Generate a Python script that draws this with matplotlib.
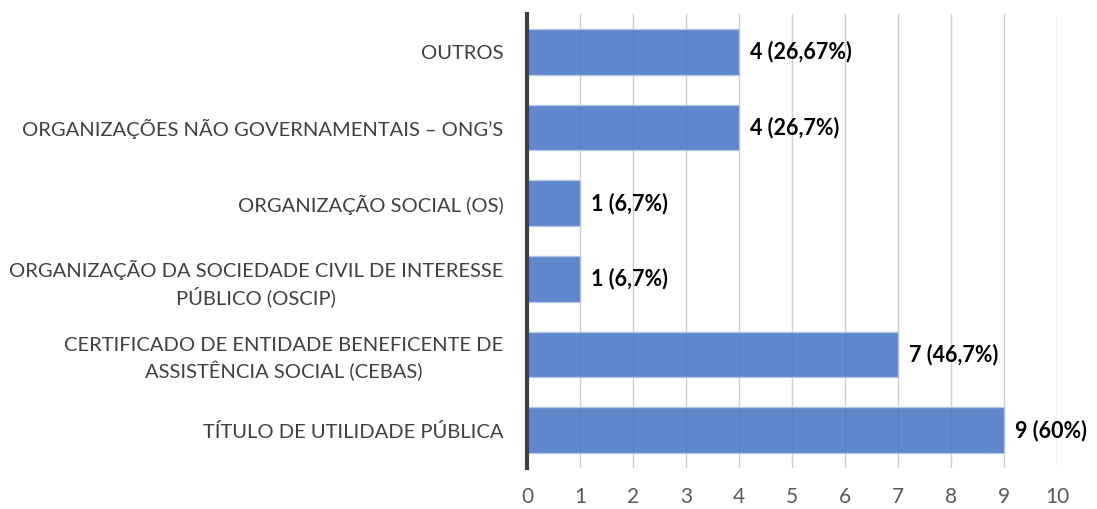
import matplotlib.pyplot as plt

# Data (bottom to top)
categorias = [
    "TÍTULO DE UTILIDADE PÚBLICA",
    "CERTIFICADO DE ENTIDADE BENEFICENTE DE\nASSISTÊNCIA SOCIAL (CEBAS)",
    "ORGANIZAÇÃO DA SOCIEDADE CIVIL DE INTERESSE\nPÚBLICO (OSCIP)",
    "ORGANIZAÇÃO SOCIAL (OS)",
    "ORGANIZAÇÕES NÃO GOVERNAMENTAIS – ONG’S",
    "OUTROS",
]
valores = [9, 7, 1, 1, 4, 4]
rotulos = ["9 (60%)", "7 (46,7%)", "1 (6,7%)", "1 (6,7%)", "4 (26,7%)", "4 (26,67%)"]
xticks = list(range(0, 11))

plt.rcParams["font.family"] = ["Lato", "DejaVu Sans"]

fig = plt.figure(figsize=(10.97, 5.09), dpi=100)
ax = fig.add_axes([0.4804, 0.0805, 0.4831, 0.892])

y = range(len(categorias))
ax.barh(y, valores, height=0.6, color="#4472C4", alpha=0.85,
        edgecolor="#B4C7E7", linewidth=1, zorder=3)

# data labels
for yi, v, txt in zip(y, valores, rotulos):
    ax.text(v + 0.2, yi, txt, va="center", ha="left", fontsize=15.5,
            fontweight="bold", color="black", zorder=4)

ax.set_xlim(0, 10)
ax.set_ylim(-0.5, len(categorias) - 0.5)
ax.set_xticks(xticks)
ax.set_yticks(list(y))
ax.set_yticklabels(categorias, fontsize=14.5, color="#404040", linespacing=1.35)
ax.tick_params(axis="x", length=0, labelsize=15, labelcolor="#595959", pad=14)
ax.tick_params(axis="y", length=0, pad=17)
for lbl in ax.get_yticklabels():
    lbl.set_horizontalalignment("right")
    lbl.set_multialignment("center")

ax.grid(axis="x", color="#D0D0D0", linewidth=1, zorder=0)
ax.set_axisbelow(True)
for s in ["top", "right", "bottom"]:
    ax.spines[s].set_visible(False)
ax.spines["left"].set_color("#404040")
ax.spines["left"].set_linewidth(3)
ax.spines["left"].set_zorder(5)

fig.savefig("out.png", dpi=100)
